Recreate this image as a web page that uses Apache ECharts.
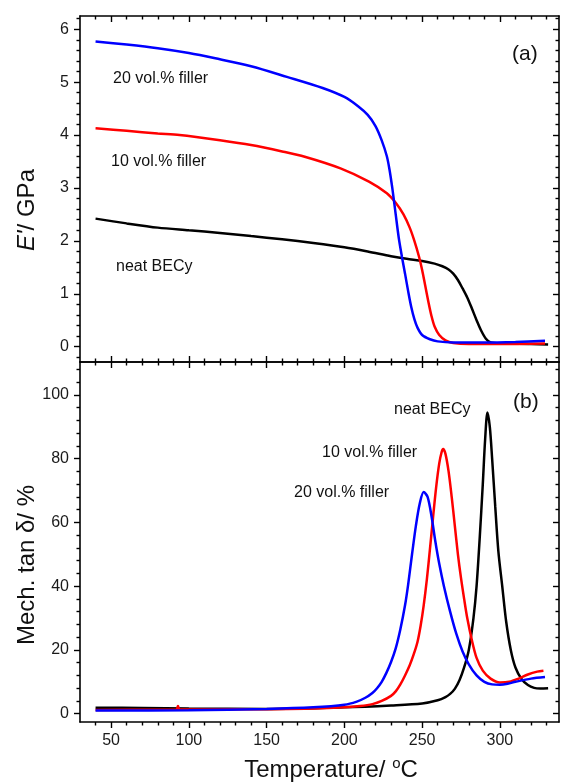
<!DOCTYPE html>
<html>
<head>
<meta charset="utf-8">
<script src="https://cdn.jsdelivr.net/npm/echarts@6/dist/echarts.min.js"></script>
<style>
  html, body { margin: 0; padding: 0; background: #ffffff; }
  #chart { width: 562px; height: 783px; }
</style>
</head>
<body>
<div id="chart"></div>
<script>
// Storage modulus E' (GPa) versus temperature (°C)
const modulusNeat = [[40,2.42],[60,2.33],[80,2.25],[100,2.2],[120,2.15],[140,2.09],[160,2.03],[180,1.96],[200,1.88],[215,1.8],[230,1.71],[240,1.66],[250,1.62],[258,1.57],[263,1.52],[267,1.46],[270,1.38],[273,1.26],[276,1.1],[279,0.93],[282,0.72],[285,0.5],[288,0.3],[291,0.15],[294,0.08],[300,0.06],[320,0.05],[331,0.04]];
const modulus10 = [[40,4.13],[60,4.08],[80,4.03],[94,4.0],[120,3.9],[140,3.81],[160,3.69],[174.5,3.59],[197.5,3.37],[215.8,3.12],[227.3,2.9],[233,2.72],[238,2.5],[242,2.25],[245,2.0],[248,1.7],[250,1.45],[252,1.15],[254,0.85],[256,0.58],[258,0.38],[261,0.22],[265,0.12],[270,0.07],[280,0.05],[300,0.05],[329,0.06]];
const modulus20 = [[40,5.77],[60,5.71],[80,5.64],[100,5.55],[117,5.45],[140,5.3],[163,5.1],[186,4.89],[200,4.72],[209,4.54],[215,4.38],[220,4.17],[224,3.9],[227.3,3.6],[229,3.35],[230.8,3.0],[233,2.5],[235,2.05],[237,1.7],[239,1.38],[241,1.05],[243,0.75],[245,0.52],[247,0.36],[250,0.22],[255,0.14],[260,0.1],[270,0.08],[290,0.08],[310,0.09],[329,0.11]];

// Mechanical loss factor tan δ (%) versus temperature (°C)
const tanNeat = [[40,1.9],[70,1.8],[100,1.6],[150,1.5],[200,2.0],[230,2.6],[250,3.2],[260,4.2],[265,5.2],[268,6.2],[271,7.8],[274,10.5],[277,14.5],[280,20],[283,30],[285,40],[287,55],[289,72],[290.5,86],[292,94.5],[293.5,90],[295,80],[297,65],[299,51],[301.5,40],[304,29],[307,20],[310,14.5],[314,10.8],[318,9],[322,8.1],[326,7.9],[331,8]];
const tan10 = [[40,1.2],[80,1.25],[92,1.3],[93,2.4],[94,1.3],[120,1.35],[150,1.4],[180,1.6],[200,2.0],[210,2.4],[218,3.0],[224,4.0],[230,5.6],[233,7.0],[236,9.2],[239,12],[242,15.2],[244.5,18.5],[247,22.5],[249,27.5],[251,34],[253,42],[255,51.5],[257,61.5],[259,71],[261,78.5],[262.5,82],[263.5,83],[265,81.5],[267,76],[269,68],[271,59],[273,50],[275,42.5],[277,36],[279,30],[282,23],[285,17.5],[289,13.5],[294,11],[300,9.8],[306,10],[312,11],[318,12.3],[324,13.2],[328,13.5]];
const tan20 = [[40,1.0],[100,1.1],[150,1.5],[180,2.0],[200,2.8],[208,3.8],[213.5,5.0],[218,6.5],[221,8.0],[224,10],[227,12.8],[230,16.2],[233,20.5],[236,26.5],[239,34],[241,40.5],[243.5,50],[246,59],[248.5,66],[251,69.5],[253.5,68],[256,62],[258.5,54],[261,47],[264,40],[268,32],[272,25],[276,19.5],[280,15.5],[285,12],[290,10],[295,9.2],[300,9.1],[305,9.4],[310,10],[320,11],[329,11.5]];

// Axis ranges and tick positions
const tempRange = [30, 338];
const tempMajor = [50, 100, 150, 200, 250, 300];
const tempMinor = [40, 60, 70, 80, 90, 110, 120, 130, 140, 160, 170, 180, 190, 210, 220, 230, 240, 260, 270, 280, 290, 310, 320, 330];
const modulusRange = [-0.29, 6.25];
const modulusMajor = [0, 1, 2, 3, 4, 5, 6];
const modulusMinor = [-0.2, 0.2, 0.4, 0.6, 0.8, 1.2, 1.4, 1.6, 1.8, 2.2, 2.4, 2.6, 2.8, 3.2, 3.4, 3.6, 3.8, 4.2, 4.4, 4.6, 4.8, 5.2, 5.4, 5.6, 5.8, 6.2];
const tanRange = [-2.6, 110.3];
const tanMajor = [0, 20, 40, 60, 80, 100];
const tanMinor = [4, 8, 12, 16, 24, 28, 32, 36, 44, 48, 52, 56, 64, 68, 72, 76, 84, 88, 92, 96, 104, 108];

const FONT = '"Liberation Sans", Arial, Helvetica, sans-serif';
const INK = '#000000';

// one axis helper: draws a line, a tick set and optionally labels
function axis(gridIndex, position, range, ticks, opts) {
  return {
    type: 'value',
    gridIndex: gridIndex,
    position: position,
    min: range[0],
    max: range[1],
    axisLine: { show: !!opts.line, onZero: false, lineStyle: { color: INK, width: 1.6 } },
    axisTick: {
      show: true,
      inside: !!opts.inside,
      length: opts.len,
      customValues: ticks,
      lineStyle: { color: INK, width: 1.4 }
    },
    axisLabel: opts.labels ? {
      show: true,
      customValues: ticks,
      margin: opts.margin,
      fontFamily: FONT,
      fontSize: 16,
      color: '#1a1a1a'
    } : { show: false },
    splitLine: { show: false },
    minorTick: { show: false }
  };
}

const xAxes = [
  // upper panel
  axis(0, 'bottom', tempRange, tempMajor, { line: true, inside: true, len: 6 }),
  axis(0, 'bottom', tempRange, tempMinor, { inside: true, len: 3.5 }),
  axis(0, 'top', tempRange, tempMajor, { line: true, inside: true, len: 6 }),
  axis(0, 'top', tempRange, tempMinor, { inside: true, len: 3.5 }),
  // lower panel
  axis(1, 'bottom', tempRange, tempMajor, { line: true, inside: false, len: 6, labels: true, margin: 11 }),
  axis(1, 'bottom', tempRange, tempMinor, { inside: false, len: 3.5 }),
  axis(1, 'top', tempRange, tempMajor, { line: true, inside: true, len: 6 }),
  axis(1, 'top', tempRange, tempMinor, { inside: true, len: 3.5 })
];

const yAxes = [
  // upper panel
  axis(0, 'left', modulusRange, modulusMajor, { line: true, inside: false, len: 6, labels: true, margin: 11 }),
  axis(0, 'left', modulusRange, modulusMinor, { inside: false, len: 3.5 }),
  axis(0, 'right', modulusRange, modulusMajor, { line: true, inside: true, len: 6 }),
  axis(0, 'right', modulusRange, modulusMinor, { inside: true, len: 3.5 }),
  // lower panel
  axis(1, 'left', tanRange, tanMajor, { line: true, inside: false, len: 6, labels: true, margin: 11 }),
  axis(1, 'left', tanRange, tanMinor, { inside: false, len: 3.5 }),
  axis(1, 'right', tanRange, tanMajor, { line: true, inside: true, len: 6 }),
  axis(1, 'right', tanRange, tanMinor, { inside: true, len: 3.5 })
];

function curve(data, color, xi, yi, z) {
  return {
    type: 'line',
    data: data,
    xAxisIndex: xi,
    yAxisIndex: yi,
    smooth: 0.3,
    showSymbol: false,
    silent: true,
    z: z,
    lineStyle: { color: color, width: 2.5 }
  };
}

function label(text, x, y, size, align) {
  return {
    type: 'text',
    x: x,
    y: y,
    style: {
      text: text,
      fill: '#111111',
      font: size + 'px ' + FONT,
      align: align || 'left',
      verticalAlign: 'middle'
    }
  };
}

const chart = echarts.init(document.getElementById('chart'), null, { renderer: 'canvas' });

chart.setOption({
  backgroundColor: '#ffffff',
  animation: false,
  grid: [
    { left: 80, right: 3, top: 16, height: 346 },
    { left: 80, right: 3, top: 362, height: 360 }
  ],
  xAxis: xAxes,
  yAxis: yAxes,
  series: [
    curve(modulusNeat, '#000000', 0, 0, 3),
    curve(modulus10, '#ff0000', 0, 0, 4),
    curve(modulus20, '#0000ff', 0, 0, 5),
    curve(tanNeat, '#000000', 4, 4, 3),
    curve(tan10, '#ff0000', 4, 4, 4),
    curve(tan20, '#0000ff', 4, 4, 5)
  ],
  graphic: [
    label('20 vol.% filler', 113, 79, 16),
    label('10 vol.% filler', 111, 162, 16),
    label('neat BECy', 116, 267, 16),
    label('(a)', 512, 54, 21),
    label('neat BECy', 394, 410, 16),
    label('10 vol.% filler', 322, 453, 16),
    label('20 vol.% filler', 294, 493, 16),
    label('(b)', 513, 402, 21),
    {
      type: 'text',
      x: 27,
      y: 210,
      rotation: Math.PI / 2,
      style: {
        text: "{i|E'}/ GPa",
        fill: '#111111',
        font: '24px ' + FONT,
        align: 'center',
        verticalAlign: 'middle',
        rich: { i: { fontStyle: 'italic', fontSize: 24, fontFamily: FONT } }
      }
    },
    {
      type: 'text',
      x: 27,
      y: 565,
      rotation: Math.PI / 2,
      style: {
        text: 'Mech. tan δ/ %',
        fill: '#111111',
        font: '24px ' + FONT,
        align: 'center',
        verticalAlign: 'middle'
      }
    },
    {
      type: 'text',
      x: 331,
      y: 770,
      style: {
        text: 'Temperature/ {s|o}C',
        fill: '#111111',
        font: '24px ' + FONT,
        align: 'center',
        verticalAlign: 'middle',
        rich: { s: { fontSize: 15, fontFamily: FONT, padding: [0, 0, 12, 0] } }
      }
    }
  ]
});
</script>
</body>
</html>
